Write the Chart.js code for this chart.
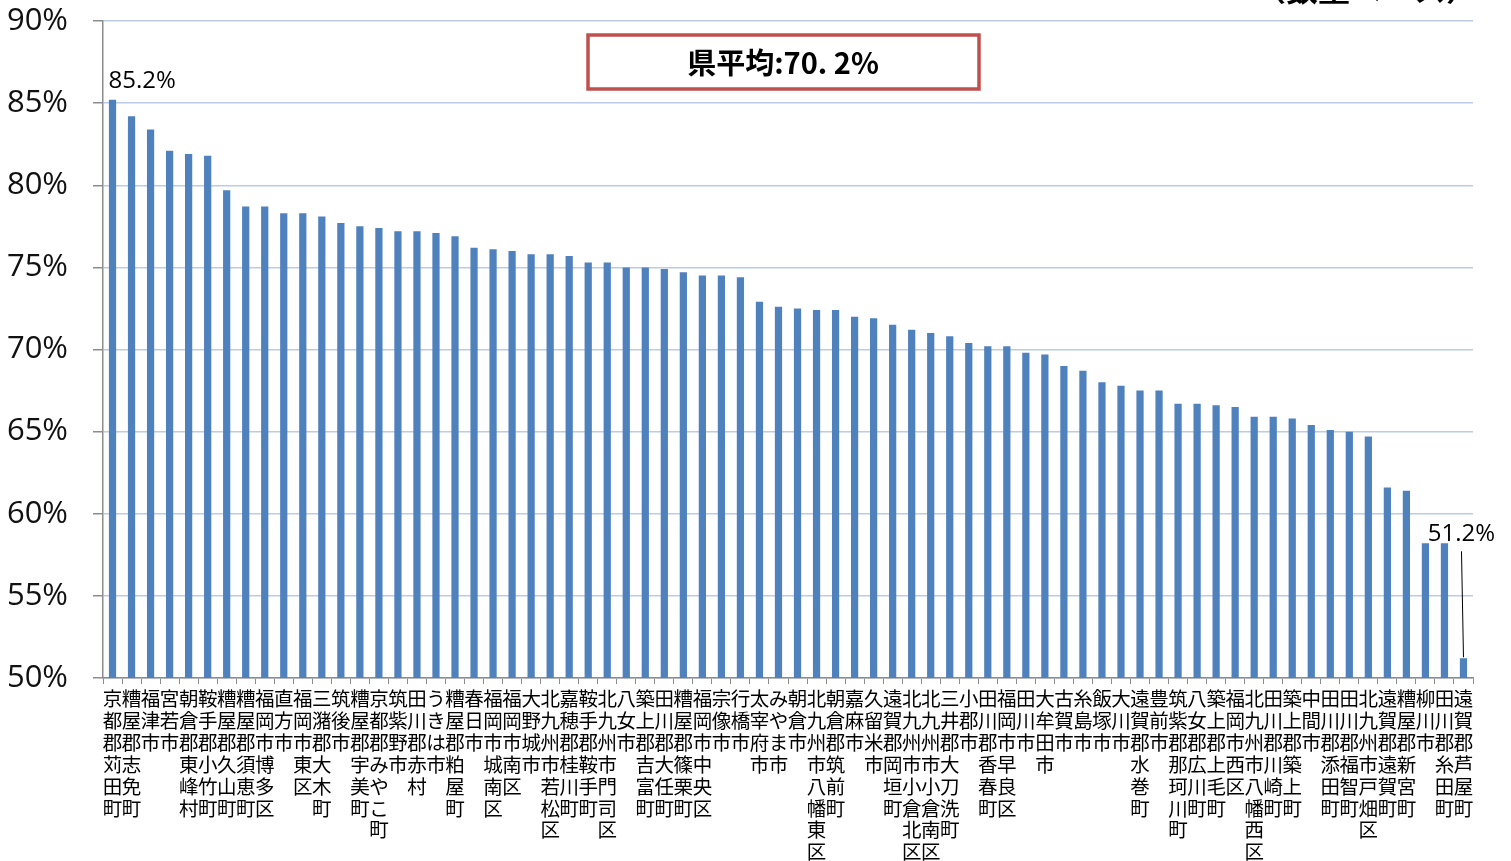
<!DOCTYPE html>
<html lang="ja">
<head>
<meta charset="utf-8">
<title>市町村別 比率</title>
<script src="https://cdn.jsdelivr.net/npm/chart.js@4.4.1/dist/chart.umd.min.js"></script>
<style>
  html, body { margin: 0; padding: 0; background: #fff; }
  canvas { display: block; }
</style>
</head>
<body>
<canvas id="rateChart" width="1511" height="861"></canvas>
<script>
// ── data ──
const areaNames = [
    '京都郡苅田町', '糟屋郡志免町', '福津市', '宮若市', '朝倉郡東峰村', '鞍手郡小竹町',
    '糟屋郡久山町', '糟屋郡須恵町', '福岡市博多区', '直方市', '福岡市東区', '三潴郡大木町',
    '筑後市', '糟屋郡宇美町', '京都郡みやこ町', '筑紫野市', '田川郡赤村', 'うきは市',
    '糟屋郡粕屋町', '春日市', '福岡市城南区', '福岡市南区', '大野城市', '北九州市若松区',
    '嘉穂郡桂川町', '鞍手郡鞍手町', '北九州市門司区', '八女市', '築上郡吉富町', '田川郡大任町',
    '糟屋郡篠栗町', '福岡市中央区', '宗像市', '行橋市', '太宰府市', 'みやま市',
    '朝倉市', '北九州市八幡東区', '朝倉郡筑前町', '嘉麻市', '久留米市', '遠賀郡岡垣町',
    '北九州市小倉北区', '北九州市小倉南区', '三井郡大刀洗町', '小郡市', '田川郡香春町', '福岡市早良区',
    '田川市', '大牟田市', '古賀市', '糸島市', '飯塚市', '大川市',
    '遠賀郡水巻町', '豊前市', '筑紫郡那珂川町', '八女郡広川町', '築上郡上毛町', '福岡市西区',
    '北九州市八幡西区', '田川郡川崎町', '築上郡築上町', '中間市', '田川郡添田町', '田川郡福智町',
    '北九州市戸畑区', '遠賀郡遠賀町', '糟屋郡新宮町', '柳川市', '田川郡糸田町', '遠賀郡芦屋町'
];

const rateValues = [
    85.2, 84.2, 83.4, 82.1, 81.9, 81.8,
    79.7, 78.7, 78.7, 78.3, 78.3, 78.1,
    77.7, 77.5, 77.4, 77.2, 77.2, 77.1,
    76.9, 76.2, 76.1, 76.0, 75.8, 75.8,
    75.7, 75.3, 75.3, 75.0, 75.0, 74.9,
    74.7, 74.5, 74.5, 74.4, 72.9, 72.6,
    72.5, 72.4, 72.4, 72.0, 71.9, 71.5,
    71.2, 71.0, 70.8, 70.4, 70.2, 70.2,
    69.8, 69.7, 69.0, 68.7, 68.0, 67.8,
    67.5, 67.5, 66.7, 66.7, 66.6, 66.5,
    65.9, 65.9, 65.8, 65.4, 65.1, 65.0,
    64.7, 61.6, 61.4, 58.2, 58.2, 51.2
];

const yMin = 50;
const yMax = 90;
const yStep = 5;

const avgText = '県平均:70. 2%';
const unitText = '（数量ベース）';

// labels written top-to-bottom, one character per line
const verticalLabels = areaNames.map(n => Array.from(n));

// ── annotations: average box, first/last value labels, unit note ──
const notesPlugin = {
    id: 'notes',
    afterDraw(chart) {
        const ctx = chart.ctx;
        const bars = chart.getDatasetMeta(0).data;
        const first = bars[0];
        const last = bars[bars.length - 1];

        ctx.save();

        // average box
        ctx.fillStyle = '#fff';
        ctx.fillRect(588, 35, 391, 54);
        ctx.strokeStyle = '#c0504d';
        ctx.lineWidth = 3.5;
        ctx.strokeRect(588, 35, 391, 54);
        ctx.fillStyle = '#000';
        ctx.font = 'bold 29px "Noto Sans CJK JP", sans-serif';
        ctx.textAlign = 'center';
        ctx.textBaseline = 'middle';
        ctx.fillText(avgText, 783, 63);

        // value labels
        ctx.font = '24px "Open Sans", sans-serif';
        ctx.textBaseline = 'alphabetic';
        ctx.textAlign = 'left';
        ctx.fillText(rateValues[0].toFixed(1) + '%', first.x - 4, first.y - 12);

        ctx.textAlign = 'center';
        ctx.fillText(rateValues[rateValues.length - 1].toFixed(1) + '%', last.x - 2, last.y - 117);
        ctx.strokeStyle = '#000';
        ctx.lineWidth = 1;
        ctx.beginPath();
        ctx.moveTo(last.x - 2, last.y - 107);
        ctx.lineTo(last.x, last.y - 1);
        ctx.stroke();

        // unit note, cut off at the top edge
        ctx.font = 'bold 32px "Noto Sans CJK JP", sans-serif';
        ctx.textAlign = 'right';
        ctx.fillText(unitText, 1478, 1);

        ctx.restore();
    }
};

new Chart(document.getElementById('rateChart'), {
    type: 'bar',
    data: {
        labels: verticalLabels,
        datasets: [{
            data: rateValues,
            backgroundColor: '#4f81bd',
            borderWidth: 0,
            categoryPercentage: 1,
            barPercentage: 0.38
        }]
    },
    options: {
        responsive: false,
        animation: false,
        layout: { padding: { top: 21, right: 38, left: 0, bottom: 0 } },
        plugins: { legend: { display: false }, tooltip: { enabled: false } },
        scales: {
            x: {
                afterFit: s => { s.height = 183; s.paddingLeft = 0; s.paddingRight = 0; },
                grid: { drawOnChartArea: false, drawTicks: true, tickLength: 6, color: '#8c8c8c' },
                border: { display: true, color: '#8c8c8c', width: 1.5 },
                ticks: {
                    autoSkip: false, maxRotation: 0, minRotation: 0, padding: 4,
                    color: '#000',
                    font: { family: '"Noto Sans CJK JP", sans-serif', size: 19.5, lineHeight: 1.12 }
                }
            },
            y: {
                min: yMin, max: yMax,
                afterFit: s => { s.width = 103; s.paddingTop = 0; s.paddingBottom = 0; },
                grid: { color: '#bccbe6', lineWidth: 1.5, tickColor: '#8c8c8c', tickLength: 10 },
                border: { display: true, color: '#8c8c8c', width: 1.5 },
                ticks: {
                    stepSize: yStep, padding: 25, color: '#111',
                    font: { family: '"Open Sans", sans-serif', size: 31 },
                    callback: v => v + '%'
                }
            }
        }
    },
    plugins: [notesPlugin]
});
</script>
</body>
</html>
